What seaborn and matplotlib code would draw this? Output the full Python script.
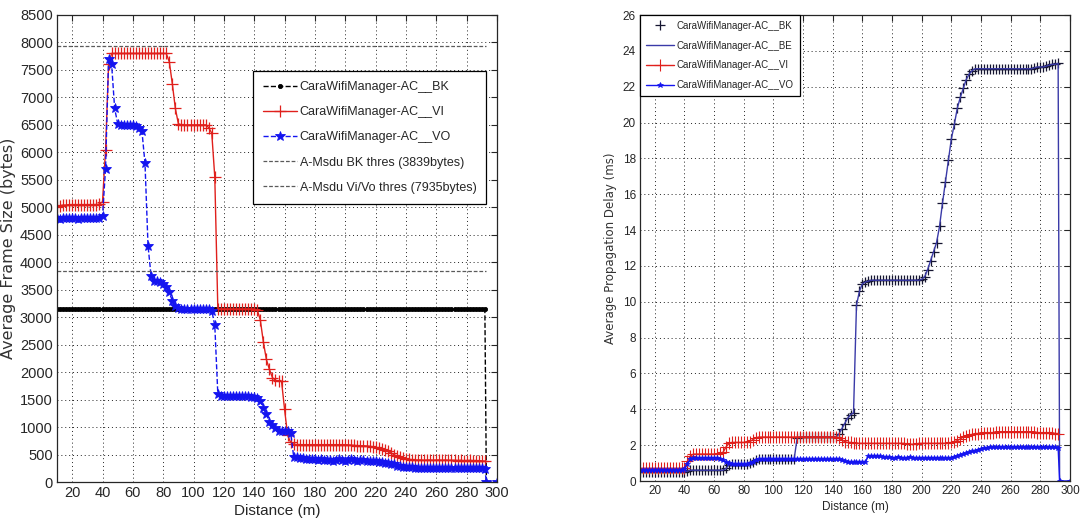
import matplotlib
matplotlib.use("Agg")
import matplotlib.pyplot as plt
import seaborn as sns

# ---------------- data ----------------
dist = list(range(10, 293, 2))          # distance samples (m)
drop_x = [293, 300]                      # end-of-range points

# Left chart: average frame size (bytes)
size_bk = [3150] * 142
size_vi = [
    5000, 5030, 5040, 5040, 5050, 5050, 5050, 5050, 5050, 5050,
    5050, 5050, 5050, 5050, 5060, 5100, 6050, 7600, 7800, 7800,
    7800, 7800, 7800, 7800, 7800, 7800, 7800, 7800, 7800, 7800,
    7800, 7800, 7800, 7800, 7800, 7800, 7800, 7650, 7250, 6800,
    6520, 6500, 6500, 6500, 6500, 6500, 6500, 6500, 6500, 6500,
    6450, 6350, 5550, 3150, 3150, 3150, 3150, 3150, 3150, 3150,
    3150, 3150, 3150, 3150, 3150, 3150, 3130, 2950, 2550, 2230,
    2050, 1900, 1850, 1840, 1830, 1320, 850, 720, 690, 680,
    680, 680, 680, 680, 680, 680, 680, 680, 680, 680,
    680, 680, 680, 680, 680, 680, 675, 670, 665, 660,
    660, 660, 655, 650, 640, 630, 620, 600, 580, 560,
    530, 500, 470, 450, 430, 420, 410, 405, 400, 400,
    400, 395, 400, 400, 395, 400, 400, 395, 400, 395,
    395, 395, 390, 395, 390, 390, 395, 390, 390, 390,
    385, 380,
]
size_vo = [
    4800, 4790, 4800, 4800, 4810, 4800, 4800, 4790, 4800, 4800,
    4800, 4800, 4800, 4800, 4810, 4850, 5700, 7700, 7600, 6800,
    6520, 6500, 6500, 6500, 6500, 6490, 6480, 6450, 6380, 5800,
    4300, 3750, 3650, 3650, 3640, 3600, 3550, 3450, 3300, 3200,
    3160, 3150, 3150, 3150, 3150, 3150, 3150, 3150, 3150, 3150,
    3150, 3120, 2850, 1600, 1570, 1570, 1560, 1570, 1560, 1570,
    1570, 1560, 1560, 1560, 1550, 1540, 1520, 1480, 1350, 1230,
    1100, 1040, 980, 930, 920, 920, 920, 900, 460, 450,
    440, 430, 420, 420, 410, 410, 400, 410, 400, 400,
    400, 390, 400, 410, 400, 390, 400, 410, 400, 390,
    400, 400, 390, 390, 380, 380, 370, 360, 350, 340,
    330, 320, 300, 290, 280, 275, 270, 265, 260, 260,
    260, 255, 255, 250, 250, 250, 250, 250, 250, 250,
    250, 250, 250, 250, 250, 250, 250, 250, 250, 250,
    250, 240,
]
size_end = [0, 0]
thres_x = [10, 293]
thres_bk = 3839
thres_vivo = 7935

# Right chart: average propagation delay (ms)
delay_bk = [
    0.5, 0.5, 0.5, 0.5, 0.5, 0.5, 0.5, 0.5, 0.5, 0.5,
    0.5, 0.5, 0.5, 0.5, 0.5, 0.5, 0.55, 0.6, 0.6, 0.6,
    0.6, 0.6, 0.6, 0.6, 0.6, 0.6, 0.6, 0.6, 0.6, 0.7,
    0.9, 0.95, 0.95, 0.95, 0.95, 0.95, 0.95, 1.0, 1.05, 1.15,
    1.2, 1.2, 1.2, 1.2, 1.2, 1.2, 1.2, 1.2, 1.2, 1.2,
    1.2, 1.2, 1.25, 2.4, 2.45, 2.45, 2.45, 2.45, 2.45, 2.45,
    2.45, 2.45, 2.45, 2.45, 2.45, 2.45, 2.45, 2.6, 2.9, 3.2,
    3.5, 3.7, 3.8, 9.8, 10.6, 11.0, 11.1, 11.15, 11.2, 11.2,
    11.2, 11.2, 11.2, 11.2, 11.2, 11.2, 11.2, 11.2, 11.2, 11.2,
    11.2, 11.2, 11.2, 11.2, 11.2, 11.25, 11.4, 11.8, 12.3, 12.8,
    13.3, 14.2, 15.5, 16.7, 17.9, 19.1, 19.9, 20.8, 21.4, 21.9,
    22.4, 22.7, 22.9, 23.0, 23.0, 23.0, 23.0, 23.0, 23.0, 23.0,
    23.0, 23.0, 23.0, 23.0, 23.0, 23.0, 23.0, 23.0, 23.0, 23.0,
    23.0, 23.0, 23.0, 23.05, 23.1, 23.1, 23.1, 23.15, 23.2, 23.25,
    23.25, 23.3,
]
delay_be = list(delay_bk)
delay_be_end = [0]
delay_vi = [
    0.7, 0.7, 0.7, 0.7, 0.7, 0.7, 0.7, 0.7, 0.7, 0.7,
    0.7, 0.7, 0.7, 0.7, 0.7, 0.75, 1.1, 1.4, 1.5, 1.5,
    1.5, 1.5, 1.5, 1.5, 1.5, 1.5, 1.5, 1.55, 1.6, 1.9,
    2.1, 2.15, 2.15, 2.15, 2.15, 2.15, 2.2, 2.2, 2.3, 2.4,
    2.45, 2.45, 2.45, 2.45, 2.45, 2.45, 2.45, 2.45, 2.45, 2.45,
    2.45, 2.45, 2.45, 2.45, 2.45, 2.45, 2.45, 2.45, 2.45, 2.45,
    2.45, 2.45, 2.45, 2.45, 2.45, 2.45, 2.45, 2.4, 2.3, 2.2,
    2.15, 2.15, 2.1, 2.1, 2.1, 2.1, 2.1, 2.1, 2.1, 2.1,
    2.1, 2.1, 2.1, 2.1, 2.1, 2.1, 2.1, 2.1, 2.1, 2.1,
    2.05, 2.05, 2.05, 2.05, 2.1, 2.1, 2.1, 2.1, 2.1, 2.1,
    2.1, 2.1, 2.1, 2.1, 2.1, 2.15, 2.2, 2.25, 2.35, 2.45,
    2.5, 2.55, 2.6, 2.65, 2.65, 2.7, 2.7, 2.7, 2.7, 2.7,
    2.75, 2.75, 2.75, 2.75, 2.75, 2.75, 2.75, 2.75, 2.75, 2.75,
    2.75, 2.75, 2.75, 2.75, 2.7, 2.7, 2.7, 2.7, 2.7, 2.7,
    2.65, 2.65,
]
delay_vo = [
    0.6, 0.6, 0.6, 0.6, 0.6, 0.6, 0.6, 0.6, 0.6, 0.6,
    0.6, 0.6, 0.6, 0.6, 0.6, 0.65, 0.95, 1.2, 1.3, 1.3,
    1.3, 1.3, 1.3, 1.3, 1.3, 1.3, 1.3, 1.25, 1.15, 1.05,
    1.0, 0.95, 0.95, 0.95, 0.95, 0.95, 0.95, 1.0, 1.05, 1.15,
    1.2, 1.2, 1.2, 1.2, 1.2, 1.2, 1.2, 1.2, 1.2, 1.2,
    1.2, 1.2, 1.2, 1.2, 1.2, 1.2, 1.2, 1.2, 1.2, 1.2,
    1.2, 1.2, 1.2, 1.2, 1.2, 1.2, 1.2, 1.2, 1.15, 1.1,
    1.05, 1.05, 1.05, 1.05, 1.05, 1.05, 1.05, 1.4, 1.4, 1.4,
    1.4, 1.38, 1.35, 1.35, 1.35, 1.3, 1.3, 1.35, 1.3, 1.3,
    1.3, 1.35, 1.3, 1.3, 1.3, 1.3, 1.3, 1.3, 1.3, 1.3,
    1.3, 1.3, 1.3, 1.3, 1.3, 1.3, 1.35, 1.4, 1.45, 1.5,
    1.55, 1.6, 1.65, 1.7, 1.75, 1.8, 1.82, 1.85, 1.88, 1.9,
    1.9, 1.9, 1.9, 1.9, 1.9, 1.9, 1.9, 1.9, 1.9, 1.9,
    1.9, 1.9, 1.9, 1.9, 1.9, 1.9, 1.9, 1.9, 1.9, 1.9,
    1.9, 1.85,
]
delay_end = [0, 0]

x_ticks = list(range(20, 301, 20))
left_yticks = list(range(0, 8501, 500))
right_yticks = list(range(0, 27, 2))

lab_bk = "CaraWifiManager-AC__BK"
lab_be = "CaraWifiManager-AC__BE"
lab_vi = "CaraWifiManager-AC__VI"
lab_vo = "CaraWifiManager-AC__VO"
lab_tbk = "A-Msdu BK thres (3839bytes)"
lab_tvv = "A-Msdu Vi/Vo thres (7935bytes)"

# ---------------- style ----------------
sns.set_style("white")
fam = ["Liberation Sans", "DejaVu Sans"]
plt.rcParams["font.family"] = fam
plt.rcParams["axes.linewidth"] = 0.9

fig = plt.figure(figsize=(10.81, 5.31), dpi=100)
axL = fig.add_axes([57 / 1081, 49 / 531, 440 / 1081, 467 / 531])
axR = fig.add_axes([640 / 1081, 50 / 531, 430 / 1081, 466 / 531])

RED = "#e0201c"
BLUE = "#1414f0"
NAVY = "#3a3aa8"
DARK = "#151530"
THR = "#5a5a5a"

# ---------------- left ----------------
sns.lineplot(x=dist + [293], y=size_bk + [0], ax=axL, color="black",
             linestyle="--", lw=1.0, marker=".", ms=6, mew=0.6, mec="black",
             estimator=None, sort=False, label=lab_bk)
sns.lineplot(x=dist, y=size_vi, ax=axL, color=RED, linestyle="-", lw=1.0,
             marker="+", ms=9, mew=0.9, mec=RED,
             estimator=None, sort=False, label=lab_vi)
sns.lineplot(x=dist + drop_x, y=size_vo + size_end, ax=axL, color=BLUE,
             linestyle="--", lw=1.0, marker="*", ms=7, mew=0.6, mec=BLUE,
             estimator=None, sort=False, label=lab_vo)
sns.lineplot(x=thres_x, y=[thres_bk] * 2, ax=axL, color=THR,
             linestyle=(0, (3, 1.5)), lw=0.9, estimator=None, label=lab_tbk)
sns.lineplot(x=thres_x, y=[thres_vivo] * 2, ax=axL, color=THR,
             linestyle=(0, (3, 1.5)), lw=0.9, estimator=None, label=lab_tvv)

axL.set_xlim(10, 300)
axL.set_ylim(0, 8500)
axL.set_xticks(x_ticks)
axL.set_yticks(left_yticks)
axL.set_xlabel("Distance (m)", fontsize=11, labelpad=3)
axL.set_ylabel("Average Frame Size (bytes)", fontsize=11.5,
               family=["DejaVu Sans"], color="#333333", labelpad=3)
axL.tick_params(labelsize=10.5, direction="in", top=True, right=True,
                length=4, width=0.8, pad=3)
axL.grid(True, linestyle=(0, (1, 3)), color="#222222", lw=0.7)
legL = axL.legend(loc="upper right", bbox_to_anchor=(0.99, 0.893),
                  fontsize=9, frameon=True, fancybox=False, framealpha=1,
                  edgecolor="black", handlelength=2.7, handletextpad=0.2,
                  borderpad=0.8, labelspacing=1.05)
legL.get_frame().set_linewidth(0.9)

# ---------------- right ----------------
sns.lineplot(x=dist, y=delay_bk, ax=axR, color=DARK, linestyle="none",
             marker="+", ms=7, mew=0.9, mec=DARK,
             estimator=None, sort=False, label=lab_bk)
sns.lineplot(x=dist + [293], y=delay_be + delay_be_end, ax=axR, color=NAVY,
             linestyle="-", lw=1.0, estimator=None, sort=False, label=lab_be)
sns.lineplot(x=dist, y=delay_vi, ax=axR, color=RED, linestyle="-", lw=1.0,
             marker="+", ms=8, mew=0.8, mec=RED,
             estimator=None, sort=False, label=lab_vi)
sns.lineplot(x=dist + drop_x, y=delay_vo + delay_end, ax=axR, color=BLUE,
             linestyle="-", lw=1.0, marker="*", ms=4, mew=0.5, mec=BLUE,
             estimator=None, sort=False, label=lab_vo)

axR.set_xlim(10, 300)
axR.set_ylim(0, 26)
axR.set_xticks(x_ticks)
axR.set_yticks(right_yticks)
axR.set_xlabel("Distance (m)", fontsize=8.5, labelpad=3)
axR.set_ylabel("Average Propagation Delay (ms)", fontsize=8.5,
               family=["DejaVu Sans"], color="#333333", labelpad=4)
axR.tick_params(labelsize=8.5, direction="in", top=True, right=True,
                length=4, width=0.8, pad=3)
axR.grid(True, linestyle=(0, (1, 3)), color="#222222", lw=0.7)
legR = axR.legend(loc="upper left", bbox_to_anchor=(0.0, 1.0),
                  borderaxespad=0, fontsize=7, frameon=True, fancybox=False,
                  framealpha=1, edgecolor="black", handlelength=2.9,
                  handletextpad=0.3, borderpad=0.6, labelspacing=1.0)
legR.get_frame().set_linewidth(0.9)

fig.savefig("out.png", dpi=100)
